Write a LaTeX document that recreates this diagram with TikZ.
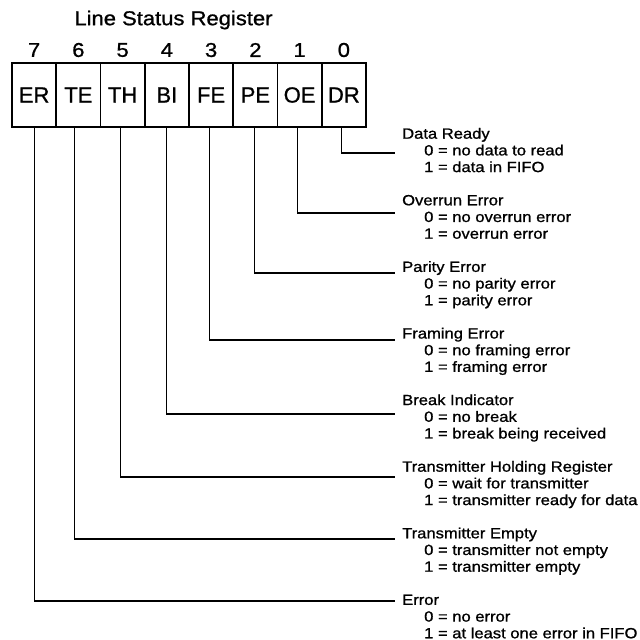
\documentclass[tikz,border=0pt]{standalone}
\usepackage{fontspec}
\setmainfont[FakeStretch=1.12,FakeBold=1]{Liberation Sans}
\newfontfamily\titlefont[FakeStretch=1.1,FakeBold=1]{Liberation Sans}
\newfontfamily\cellfont[FakeBold=1]{Liberation Sans}
\begin{document}
\begin{tikzpicture}[x=1pt,y=-1pt,
  cell/.style={draw, line width=1.6pt, minimum width=44.25pt, minimum height=64pt, inner sep=0pt, font=\cellfont\fontsize{22}{24}\selectfont},
  bitnum/.style={inner sep=0pt, font=\titlefont\fontsize{20}{22}\selectfont},
  desc/.style={anchor=north west, inner sep=0pt, align=left, font=\fontsize{14.8}{16.7}\selectfont},
  conn/.style={draw, line width=1.2pt}]
\useasboundingbox (0,0) rectangle (640,640);
\node[bitnum] (title) at (173.5,20) {Line Status Register};
% register cells
\foreach \n/\lab/\b [count=\i from 0] in {ER/ER/7,TE/TE/6,TH/TH/5,BI/BI/4,FE/FE/3,PE/PE/2,OE/OE/1,DR/DR/0}{
  \node[cell] (\n) at ({12+44.25*(\i+0.5)},95) {\lab};
  \node[bitnum] (b\n) at ({12+44.25*(\i+0.5)},50) {\b};
}
% descriptions
\node[desc] (tDR) at (402,126.8) {\strut Data Ready\\\hspace*{22pt}0 = no data to read\\\hspace*{22pt}1 = data in FIFO};
\node[desc] (tOE) at (402,193.4) {\strut Overrun Error\\\hspace*{22pt}0 = no overrun error\\\hspace*{22pt}1 = overrun error};
\node[desc] (tPE) at (402,260.0) {\strut Parity Error\\\hspace*{22pt}0 = no parity error\\\hspace*{22pt}1 = parity error};
\node[desc] (tFE) at (402,326.6) {\strut Framing Error\\\hspace*{22pt}0 = no framing error\\\hspace*{22pt}1 = framing error};
\node[desc] (tBI) at (402,393.2) {\strut Break Indicator\\\hspace*{22pt}0 = no break\\\hspace*{22pt}1 = break being received};
\node[desc] (tTH) at (402,459.8) {\strut Transmitter Holding Register\\\hspace*{22pt}0 = wait for transmitter\\\hspace*{22pt}1 = transmitter ready for data};
\node[desc] (tTE) at (402,526.4) {\strut Transmitter Empty\\\hspace*{22pt}0 = transmitter not empty\\\hspace*{22pt}1 = transmitter empty};
\node[desc] (tER) at (402,593.0) {\strut Error\\\hspace*{22pt}0 = no error\\\hspace*{22pt}1 = at least one error in FIFO};
% connector ends
\coordinate (eDR) at (395,153);
\coordinate (eOE) at (395,213);
\coordinate (ePE) at (395,273);
\coordinate (eFE) at (395,340);
\coordinate (eBI) at (395,414);
\coordinate (eTH) at (395,477);
\coordinate (eTE) at (395,539);
\coordinate (eER) at (395,601);
\draw[conn] ([xshift=-2pt]DR.south) |- (eDR);
\draw[conn] ([xshift=-2pt]OE.south) |- (eOE);
\draw[conn] ([xshift=-1pt]PE.south) |- (ePE);
\draw[conn] ([xshift=-2pt]FE.south) |- (eFE);
\draw[conn] (BI.south) |- (eBI);
\draw[conn] ([xshift=-2pt]TH.south) |- (eTH);
\draw[conn] ([xshift=-4pt]TE.south) |- (eTE);
\draw[conn] (ER.south) |- (eER);
\end{tikzpicture}
\end{document}
